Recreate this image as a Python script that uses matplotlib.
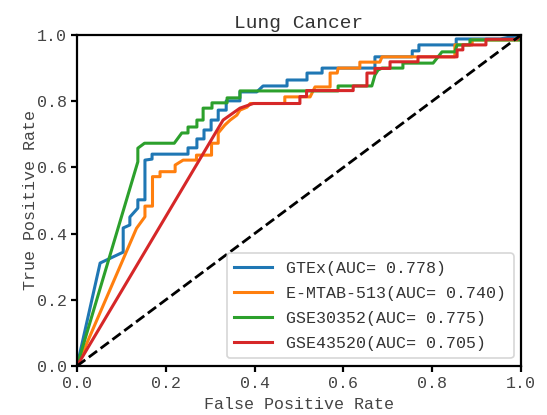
import matplotlib
matplotlib.use("Agg")
import matplotlib.pyplot as plt

# ROC operating points (false positive rate, true positive rate) per cohort
gtex_fpr = [0.0, 0.052, 0.104, 0.104, 0.119, 0.119, 0.137, 0.137, 0.153, 0.153,
            0.169, 0.169, 0.250, 0.250, 0.270, 0.270, 0.286, 0.286, 0.302, 0.302,
            0.318, 0.318, 0.336, 0.336, 0.367, 0.367, 0.405, 0.419, 0.473, 0.473,
            0.518, 0.518, 0.552, 0.552, 0.671, 0.671, 0.755, 0.755, 0.770, 0.770,
            0.854, 0.854, 0.953, 1.0]
gtex_tpr = [0.0, 0.311, 0.344, 0.417, 0.426, 0.450, 0.477, 0.502, 0.502, 0.622,
            0.625, 0.640, 0.640, 0.659, 0.659, 0.686, 0.686, 0.713, 0.713, 0.743,
            0.743, 0.773, 0.773, 0.801, 0.801, 0.828, 0.828, 0.846, 0.846, 0.864,
            0.864, 0.885, 0.885, 0.900, 0.900, 0.934, 0.934, 0.952, 0.952, 0.970,
            0.970, 0.988, 0.988, 1.0]

emtab_fpr = [0.0, 0.134, 0.153, 0.153, 0.170, 0.170, 0.187, 0.187, 0.221, 0.221,
             0.239, 0.269, 0.269, 0.303, 0.303, 0.318, 0.318, 0.333, 0.345, 0.360,
             0.367, 0.383, 0.390, 0.468, 0.468, 0.525, 0.536, 0.570, 0.570, 0.586,
             0.588, 0.637, 0.637, 0.682, 0.687, 0.851, 0.851, 0.890, 0.890, 1.0, 1.0]
emtab_tpr = [0.0, 0.416, 0.451, 0.483, 0.483, 0.572, 0.572, 0.587, 0.587, 0.607,
             0.622, 0.622, 0.637, 0.637, 0.673, 0.673, 0.704, 0.728, 0.743, 0.758,
             0.773, 0.782, 0.793, 0.793, 0.813, 0.813, 0.843, 0.843, 0.885, 0.885,
             0.900, 0.900, 0.918, 0.918, 0.934, 0.934, 0.970, 0.970, 0.985, 0.985, 1.0]

gse30352_fpr = [0.0, 0.137, 0.137, 0.152, 0.219, 0.236, 0.250, 0.250, 0.270, 0.270,
                0.284, 0.284, 0.304, 0.304, 0.338, 0.338, 0.367, 0.367, 0.588, 0.588,
                0.664, 0.671, 0.678, 0.687, 0.734, 0.734, 0.802, 0.822, 0.851, 0.856,
                0.885, 0.885, 1.0, 1.0]
gse30352_tpr = [0.0, 0.617, 0.658, 0.673, 0.673, 0.704, 0.704, 0.722, 0.722, 0.743,
                0.743, 0.779, 0.779, 0.795, 0.795, 0.810, 0.810, 0.831, 0.831, 0.846,
                0.846, 0.879, 0.894, 0.900, 0.900, 0.915, 0.915, 0.949, 0.949, 0.970,
                0.970, 0.985, 0.985, 1.0]

gse43520_fpr = [0.0, 0.329, 0.367, 0.397, 0.502, 0.502, 0.517, 0.517, 0.622, 0.622,
                0.653, 0.653, 0.671, 0.671, 0.705, 0.705, 0.768, 0.768, 0.856, 0.856,
                0.869, 0.869, 0.921, 0.921, 0.991, 1.0]
gse43520_tpr = [0.0, 0.743, 0.779, 0.793, 0.793, 0.814, 0.814, 0.832, 0.832, 0.846,
                0.846, 0.885, 0.885, 0.899, 0.899, 0.919, 0.919, 0.934, 0.934, 0.955,
                0.955, 0.970, 0.970, 0.987, 0.987, 1.0]

names = ["GTEx", "E-MTAB-513", "GSE30352", "GSE43520"]
aucs = [0.778, 0.740, 0.775, 0.705]
colors = ["#1f77b4", "#ff7f0e", "#2ca02c", "#d62728"]
curves = [(gtex_fpr, gtex_tpr), (emtab_fpr, emtab_tpr),
          (gse30352_fpr, gse30352_tpr), (gse43520_fpr, gse43520_tpr)]

ticks = [0.0, 0.2, 0.4, 0.6, 0.8, 1.0]
tick_labels = ["0.0", "0.2", "0.4", "0.6", "0.8", "1.0"]

plt.rcParams["font.family"] = ["Liberation Mono", "DejaVu Sans Mono"]

fig = plt.figure(figsize=(5.47, 4.15), dpi=100)
ax = fig.add_axes([0.1408, 0.1181, 0.8117, 0.7976])

for (fpr, tpr), name, auc, c in zip(curves, names, aucs, colors):
    ax.plot(fpr, tpr, color=c, lw=2.2, label=f"{name}(AUC= {auc:.3f})")

ax.plot([0, 1], [0, 1], color="black", lw=2.0, ls="--")

ax.set_xlim(0, 1)
ax.set_ylim(0, 1)
ax.set_xticks(ticks)
ax.set_xticklabels(tick_labels)
ax.set_yticks(ticks)
ax.set_yticklabels(tick_labels)

for s in ax.spines.values():
    s.set_linewidth(1.6)
ax.tick_params(width=1.6, length=4.5, labelsize=12, colors="black",
               labelcolor="#444444", pad=3)

ax.set_xlabel("False Positive Rate", fontsize=12, color="#444444", labelpad=4)
ax.set_ylabel("True Positive Rate", fontsize=12, color="#444444", labelpad=-1)
ax.set_title("Lung Cancer", fontsize=14, color="#333333", pad=5)

leg = ax.legend(loc="lower right", fontsize=12, handlelength=2.25,
                labelspacing=0.6, borderpad=0.45, handletextpad=0.85,
                borderaxespad=0.45)
leg.get_frame().set_linewidth(1.2)
for t in leg.get_texts():
    t.set_color("#333333")

fig.savefig("out.png", dpi=100)
